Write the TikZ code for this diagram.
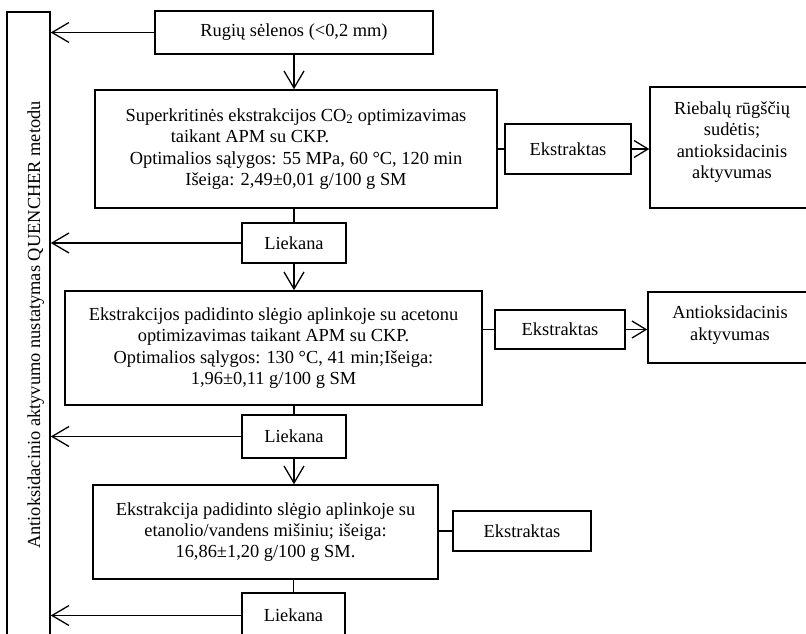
\documentclass[tikz,border=0pt]{standalone}
\usepackage{fontspec}
\setmainfont{Liberation Serif}
\usetikzlibrary{arrows.meta}
\begin{document}
\begin{tikzpicture}[x=1pt,y=-1pt,
  box/.style={draw, line width=1.5pt, inner sep=0pt, align=center, font=\fontsize{18.4}{21.4}\selectfont},
  txt/.style={inner sep=0pt, align=center, font=\fontsize{18.4}{21.4}\selectfont},
  conn/.style={line width=1.3pt},
  arr/.style={conn, -{Straight Barb[length=17pt,width=20pt]}},
  arrs/.style={conn, -{Straight Barb[length=14pt,width=17pt]}}]
\path[use as bounding box] (0,0) rectangle (806,634);
\clip (0,0) rectangle (806,634);
% left tall box
\node[draw, line width=1.5pt, minimum width=43pt, minimum height=650pt, inner sep=0pt] (q) at (28.5,337) {};
\node[txt, rotate=90, anchor=base] (qt) at (40,325) {Antioksidacinio aktyvumo nustatymas QUENCHER metodu};
% main column
\node[box, minimum width=278pt, minimum height=43pt] (rug) at (294,32.5) {Rugių sėlenos (<0,2 mm)};
\node[box, minimum width=402pt, minimum height=118pt] (b1) at (296,149) {Superkritinės ekstrakcijos CO\textsubscript{2} optimizavimas\\ \mbox{taikant APM su CKP.}\hspace{92pt}\mbox{}\\ Optimalios sąlygos: 55 MPa, 60 °C, 120 min\\ Išeiga: 2,49±0,01 g/100 g SM};
\node[box, minimum width=126pt, minimum height=50pt] (e1) at (568,149) {Ekstraktas};
\node[draw, line width=1.5pt, minimum width=160pt, minimum height=121pt, inner sep=0pt] (r1) at (730,147.5) {};
\node[txt] (r1t) at (732,142) {Riebalų rūgščių\\ sudėtis;\\ antioksidacinis\\ aktyvumas};
\node[box, minimum width=104pt, minimum height=40pt] (l1) at (294,243) {Liekana};
\node[box, minimum width=417pt, minimum height=114pt] (b2) at (273.5,348) {Ekstrakcijos padidinto slėgio aplinkoje su acetonu\\ optimizavimas taikant APM su CKP.\\ Optimalios sąlygos: 130 °C, 41 min;Išeiga:\\ 1,96±0,11 g/100 g SM};
\node[box, minimum width=130pt, minimum height=39pt] (e2) at (560,329.5) {Ekstraktas};
\node[draw, line width=1.5pt, minimum width=162pt, minimum height=71pt, inner sep=0pt] (r2) at (729,327.5) {};
\node[txt] (r2t) at (730,325) {Antioksidacinis\\ aktyvumas};
\node[box, minimum width=104pt, minimum height=43pt] (l2) at (294,436.5) {Liekana};
\node[box, minimum width=345pt, minimum height=94pt] (b3) at (265.5,532) {Ekstrakcija padidinto slėgio aplinkoje su\\ etanolio/vandens mišiniu; išeiga:\\ 16,86±1,20 g/100 g SM.};
\node[box, minimum width=138pt, minimum height=40pt] (e3) at (522,531) {Ekstraktas};
\node[box, minimum width=103pt, minimum height=45pt] (l3) at (293.5,615.5) {Liekana};
% connectors
\draw[arr] (rug.west) -- (rug.west -| q.east);
\draw[arr] (rug.south) -- (rug.south |- b1.north);
\draw[conn] (b1.east) -- (e1.west);
\draw[arrs] (e1.east) -- (r1.west |- e1.east);
\draw[conn] (l1.north |- b1.south) -- (l1.north);
\draw[arr] (l1.west) -- (l1.west -| q.east);
\draw[arr] (l1.south) -- (l1.south |- b2.north);
\draw[conn] (e2.west -| b2.east) -- (e2.west);
\draw[arrs] (e2.east) -- (r2.west |- e2.east);
\draw[conn] (l2.north |- b2.south) -- (l2.north);
\draw[arr] (l2.west) -- (l2.west -| q.east);
\draw[arr] (l2.south) -- (l2.south |- b3.north);
\draw[conn] (e3.west -| b3.east) -- (e3.west);
\draw[conn] (l3.north |- b3.south) -- (l3.north);
\draw[arr] (l3.west) -- (l3.west -| q.east);
\end{tikzpicture}
\end{document}
